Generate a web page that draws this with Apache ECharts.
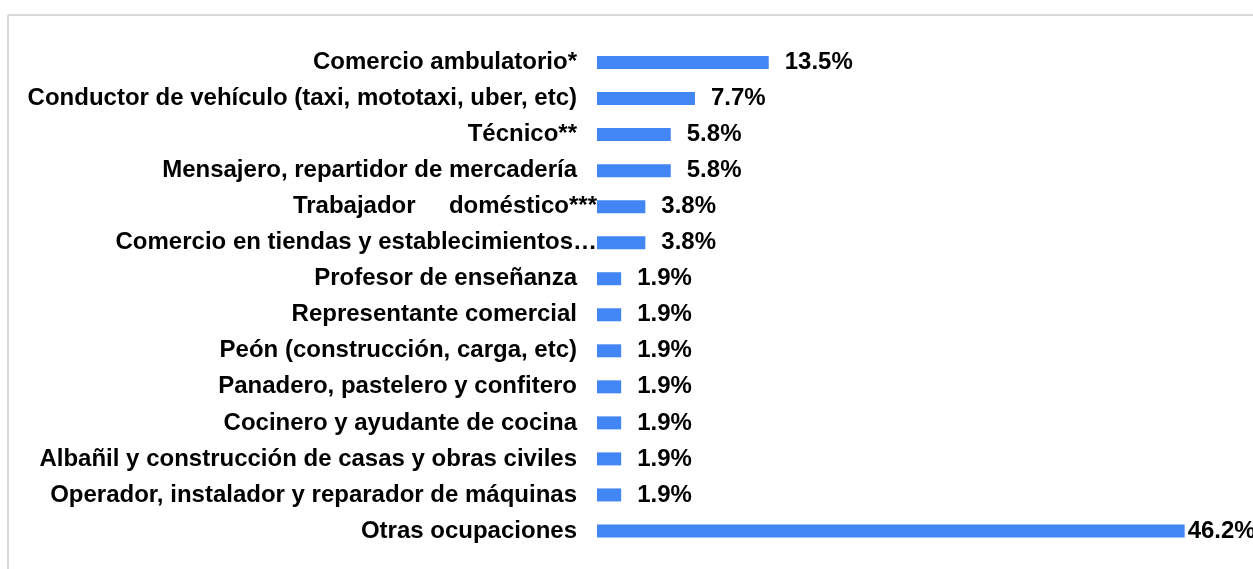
<!DOCTYPE html>
<html>
<head>
<meta charset="utf-8">
<script src="https://cdn.jsdelivr.net/npm/echarts@6/dist/echarts.min.js"></script>
<style>
  html, body { margin: 0; padding: 0; background: #fff; }
  #chart { width: 1253px; height: 569px; }
</style>
</head>
<body>
<div id="chart"></div>
<script>
// Occupations (top to bottom) and their share of respondents, in percent
const categories = [
  'Comercio ambulatorio*',
  'Conductor de vehículo (taxi, mototaxi, uber, etc)',
  'Técnico**',
  'Mensajero, repartidor de mercadería',
  'Trabajador     doméstico***',
  'Comercio en tiendas y establecimientos…',
  'Profesor de enseñanza',
  'Representante comercial',
  'Peón (construcción, carga, etc)',
  'Panadero, pastelero y confitero',
  'Cocinero y ayudante de cocina',
  'Albañil y construcción de casas y obras civiles',
  'Operador, instalador y reparador de máquinas',
  'Otras ocupaciones'
];
const shares = [13.5, 7.7, 5.8, 5.8, 3.8, 3.8, 1.9, 1.9, 1.9, 1.9, 1.9, 1.9, 1.9, 46.2];

// Labels too long for the label column run up to the bars
const overflowing = ['Trabajador     doméstico***', 'Comercio en tiendas y establecimientos…'];

const FONT = '"Liberation Sans", Arial, sans-serif';
const SIZE = 24;

const chart = echarts.init(document.getElementById('chart'), null, { renderer: 'canvas' });

chart.setOption({
  animation: false,
  backgroundColor: '#ffffff',
  graphic: [
    { type: 'line', shape: { x1: 8, y1: 15, x2: 1253, y2: 15 }, style: { stroke: '#d9d9d9', lineWidth: 2 } },
    { type: 'line', shape: { x1: 8, y1: 15, x2: 8, y2: 569 }, style: { stroke: '#d9d9d9', lineWidth: 2 } }
  ],
  // 14 rows of about 36 px each
  grid: { left: 597, right: 20, top: 44.5, height: 504.5, containLabel: false },
  xAxis: {
    type: 'value',
    min: 0,
    max: 50,
    show: false
  },
  yAxis: {
    type: 'category',
    inverse: true,
    data: categories,
    axisLine: { show: false },
    axisTick: { show: false },
    axisLabel: {
      margin: 0,
      fontFamily: FONT,
      fontWeight: 'bold',
      fontSize: SIZE,
      color: '#000',
      formatter: function (v) {
        return overflowing.indexOf(v) >= 0 ? '{o|' + v + '}' : '{n|' + v + '}';
      },
      rich: {
        n: { fontFamily: FONT, fontWeight: 'bold', fontSize: SIZE, color: '#000', padding: [0, 20, 0, 0] },
        o: { fontFamily: FONT, fontWeight: 'bold', fontSize: SIZE, color: '#000', padding: [0, 0, 0, 0] }
      }
    }
  },
  series: [{
    type: 'bar',
    barWidth: 13,
    itemStyle: { color: '#4285f4' },
    label: {
      show: true,
      position: 'right',
      distance: 16,
      fontFamily: FONT,
      fontWeight: 'bold',
      fontSize: SIZE,
      color: '#000',
      formatter: function (p) { return p.value.toFixed(1) + '%'; }
    },
    data: shares.map(function (v, i) {
      return i === shares.length - 1 ? { value: v, label: { distance: 3 } } : v;
    })
  }]
});
</script>
</body>
</html>
